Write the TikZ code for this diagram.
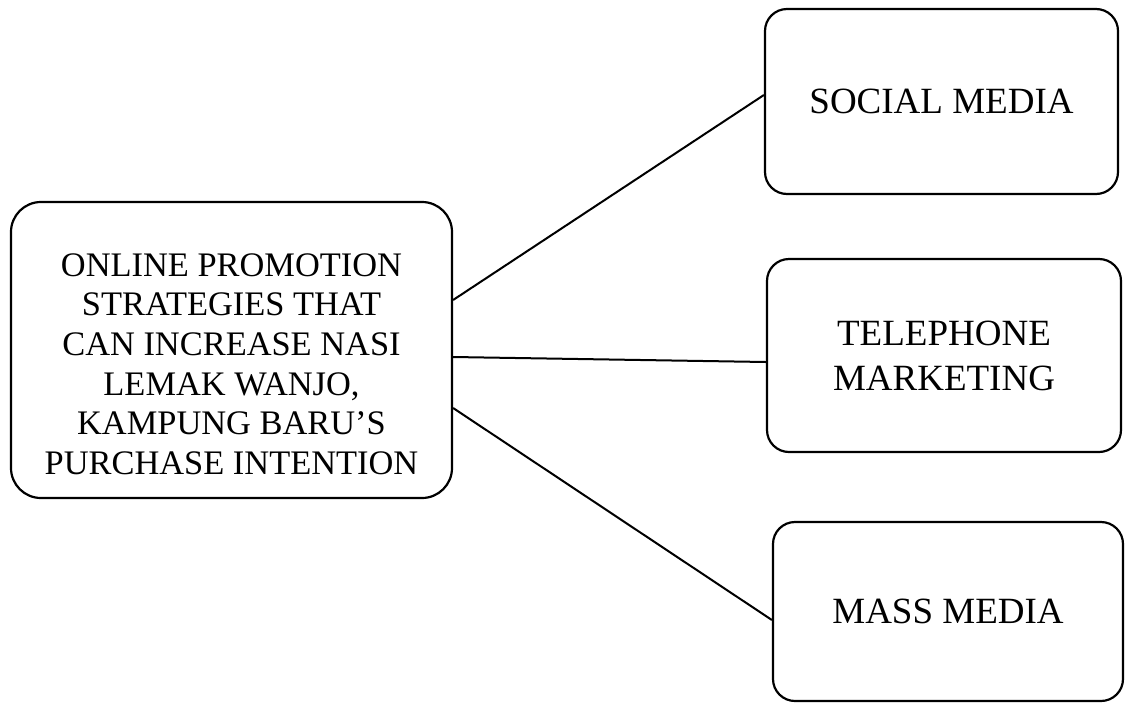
\documentclass[tikz,border=0pt]{standalone}
\usepackage{fontspec}
\setmainfont{Liberation Serif}
\begin{document}
\begin{tikzpicture}[x=1pt,y=-1pt,
  box/.style={draw=black, line width=2.2pt, fill=white, align=center, inner sep=0pt,
    font=\fontsize{37}{45}\selectfont},
  bigtext/.style={align=center, inner sep=0pt, font=\fontsize{34.4}{39.6}\selectfont},
  link/.style={draw=black, line width=2pt}]
\useasboundingbox (0,0) rectangle (1125,702);
\node[box, rounded corners=30pt, minimum width=441pt, minimum height=296pt] (L) at (231.5,350) {};
\node[bigtext] (Ltext) at (231.5,364)
  {ONLINE PROMOTION\\STRATEGIES THAT\\CAN INCREASE NASI\\LEMAK WANJO,\\KAMPUNG BARU’S\\PURCHASE INTENTION};
\node[box, rounded corners=22pt, minimum width=353pt, minimum height=185pt] (S) at (941.5,101.5) {SOCIAL MEDIA};
\node[box, rounded corners=22pt, minimum width=354pt, minimum height=193pt] (T) at (944,355.5) {TELEPHONE\\MARKETING};
\node[box, rounded corners=22pt, minimum width=350pt, minimum height=179pt] (M) at (948,611.5) {MASS MEDIA};
\draw[link] ([yshift=50pt]L.east) -- ([yshift=6.5pt]S.west);
\draw[link] ([yshift=-7pt]L.east) -- ([yshift=-6.5pt]T.west);
\draw[link] ([yshift=-58pt]L.east) -- ([yshift=-8.5pt]M.west);
\end{tikzpicture}
\end{document}
